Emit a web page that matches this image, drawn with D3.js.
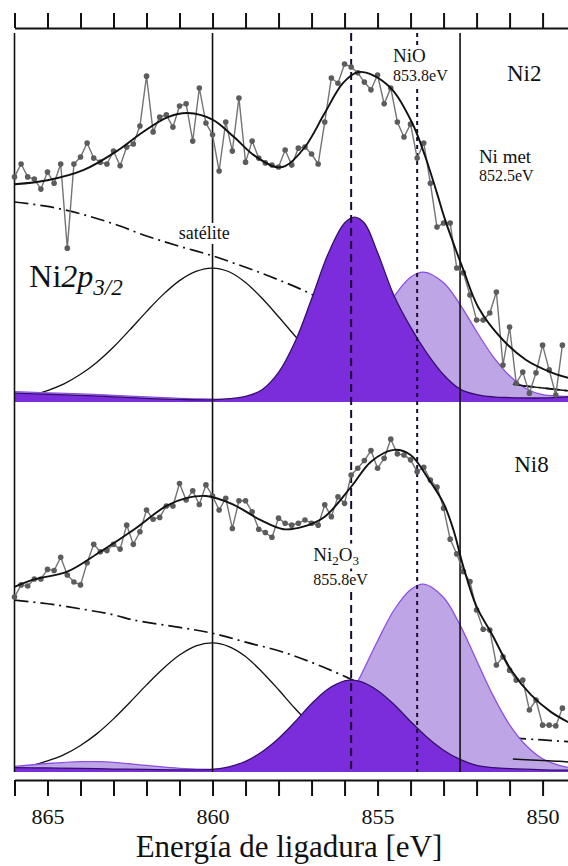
<!doctype html>
<html>

<head>
    <meta charset="utf-8">
    <style>
        body {
            margin: 0;
            background: #fff;
        }

        svg {
            display: block;
            font-family: "Liberation Serif", "Times New Roman", serif;
        }

        .axis path,
        .axis line {
            stroke: #111;
            stroke-width: 2;
        }
    </style>
    <script src="https://d3js.org/d3.v7.min.js"></script>
</head>

<body>
    <svg width="568" height="866"></svg>
    <script>

        var serif = "'Liberation Serif', 'Times New Roman', serif";

        // measured points: binding energy grid (eV)
        var pointStart = 866,
            pointStep = 0.2;

        // Ni2 measured intensity (a.u.)
        var ni2Counts = [
            61.0, 64.5, 61.0, 60.4, 57.7, 62.3, 59.3, 64.5, 41.7, 64.5,
            66.4, 70.2, 66.1, 65.0, 64.5, 68.0, 64.0, 69.1, 69.9, 74.8,
            88.3, 73.2, 77.2, 77.8, 74.5, 80.2, 80.8, 70.7, 85.1, 75.6,
            72.4, 62.6, 75.9, 68.0, 82.4, 65.0, 70.7, 66.1, 64.8, 64.2,
            63.7, 68.3, 64.2, 68.8, 69.1, 67.2, 64.5, 75.9, 87.8, 86.4,
            91.6, 90.8, 89.2, 86.7, 84.6, 88.6, 80.8, 85.1, 75.9, 71.8,
            75.3, 66.1, 70.2, 59.3, 47.4, 48.5, 48.5, 36.3, 35.0, 29.0,
            22.2, 22.2, 24.1, 29.8, 10.0, 20.3, 5.1, 8.1, 2.4, 7.9,
            15.4, 8.7, 1.9, 15.4
        ];

        // Ni8 measured intensity (a.u.)
        var ni8Counts = [
            47.4, 50.7, 50.4, 52.3, 52.3, 54.9, 54.6, 58.2, 53.4, 51.5,
            50.7, 56.7, 61.7, 59.7, 60.0, 61.7, 60.4, 66.9, 61.7, 65.1,
            71.0, 68.5, 69.0, 72.1, 72.1, 78.2, 73.7, 76.2, 72.5, 77.8,
            74.8, 71.0, 74.2, 66.0, 73.5, 73.5, 70.5, 65.8, 64.9, 63.6,
            68.8, 67.4, 66.9, 67.4, 68.3, 67.4, 66.9, 72.4, 69.2, 74.6,
            72.8, 80.5, 82.3, 84.4, 87.1, 82.3, 85.0, 90.2, 86.2, 85.9,
            84.6, 81.4, 82.6, 79.1, 77.2, 71.5, 63.1, 59.1, 54.3, 51.6,
            43.9, 38.7, 38.5, 29.0, 31.2, 27.6, 24.9, 24.9, 16.8, 19.5,
            12.7, 12.7, 12.5, 17.3
        ];

        // fitted curves, [energy eV, intensity]
        var ni2Envelope = [[866, 59.0], [865, 60.1], [863.9, 62.9], [862.85, 68.3], [862.15, 72.9], [861.35, 77.2],
        [860.75, 78.3], [860, 76.5], [859.35, 71.8], [858.75, 66.9], [858.1, 63.7], [857.8, 63.9], [857.2, 69.1],
        [856.6, 78.3], [856.05, 86.4], [855.6, 89.4], [855.15, 88.6], [854.55, 84.6], [853.95, 75.6], [853.55, 66.4],
        [853.2, 56.6], [852.95, 49.3], [852.4, 35.8], [851.95, 25.7], [851.2, 16.8], [850.5, 11.4], [849.7, 7.9], [849.2, 6.5]];

        var ni8Envelope = [[866, 50.2], [865.4, 52.2], [864.4, 54.3], [863.4, 59.7], [862.4, 65.6], [861.4, 72.1],
        [860.8, 74.2], [860.2, 74.8], [859.4, 72.6], [858.55, 68.3], [857.85, 65.8], [857.25, 66.5], [856.6, 69.2],
        [855.8, 77.3], [855.2, 84.1], [854.5, 87.3], [854, 85.9], [853.5, 80.0], [853, 72.8], [852.7, 65.6],
        [852.4, 55.6], [852, 44.8], [851.55, 37.6], [850.95, 27.6], [850.35, 20.9], [849.75, 16.3], [849.2, 13.4]];

        var ni2Background = [[866, 54.2], [865, 53.0], [864, 51.0], [863, 48.3], [862, 45.0], [861, 42.2], [860, 39.6],
        [859, 36.5], [858, 33.1], [857, 29.2], [856, 24.0], [855, 17.0], [854, 10.5], [853, 6.5], [852, 5.0],
        [851, 4.5], [850.5, 4.3], [850, 3.8], [849.5, 3.3], [849.2, 3.0]];

        var ni8Background = [[866, 46.6], [865, 45.6], [864.4, 44.8], [863, 42.6], [862.4, 41.2], [861, 39.2], [860, 37.6],
        [859, 35.2], [857.9, 32.6], [856.8, 29.0], [855.75, 24.9], [855, 21.5], [854, 17.0], [853, 13.2], [852, 10.6],
        [851, 9.3], [850, 8.7], [849.2, 8.2]];

        var ni2Satellite = [[866, 1.0], [865.5, 1.8], [865, 3.1], [864.5, 4.9], [864, 7.5], [863.5, 10.8], [863, 14.9],
        [862.5, 19.6], [862, 24.5], [861.5, 29.1], [861, 32.9], [860.5, 35.4], [860, 36.3], [859.5, 35.3], [859, 32.4],
        [858.5, 28.1], [858, 23.1], [857.5, 17.9], [857, 13.1], [856.5, 9.0], [856, 5.9], [855, 2.1], [854, 0.6], [853, 0.2]];

        var ni8Satellite = [[866, 1.0], [865.5, 1.7], [865, 3.0], [864.5, 4.7], [864, 7.2], [863.5, 10.4], [863, 14.4],
        [862.5, 18.9], [862, 23.6], [861.5, 28.0], [861, 31.7], [860.5, 34.2], [860, 35.0], [859.5, 34.0], [859, 31.3],
        [858.5, 27.1], [858, 22.3], [857.5, 17.2], [857, 12.6], [856.5, 8.7], [856, 5.7], [855, 2.1], [854, 0.6], [853, 0.2]];

        var ni2NiO = [[866, 2.8], [865, 2.5], [864, 2.2], [863, 1.8], [862, 1.4], [861, 1.0], [860, 0.8], [859, 0.6],
        [858, 0.6], [857.5, 0.9], [857, 2.0], [856.5, 4.1], [856, 8.1], [855.5, 14.0], [855, 21.3], [854.5, 28.6],
        [854, 33.8], [853.6, 35.2], [853, 32.3], [852.5, 26.4], [852, 19.1], [851.5, 12.3], [851, 7.1], [850.5, 3.6],
        [850, 2.0], [849.5, 1.6], [849.2, 1.5]];

        var ni8NiO = [[866, 1.5], [865, 2.3], [864, 2.8], [863.4, 2.8], [863, 2.6], [862, 1.8], [861, 1.0], [860, 0.7],
        [859, 0.9], [858, 1.5], [857.5, 3.1], [857, 6.1], [856.5, 10.9], [856, 17.7], [855.5, 26.3], [855, 35.5],
        [854.5, 43.9], [854, 49.4], [853.6, 50.9], [853, 47.3], [852.5, 39.8], [852, 30.2], [851.5, 20.7], [851, 12.8],
        [850.5, 7.2], [850, 3.6], [849.5, 1.8], [849.2, 1.2]];

        var ni2Ni2O3 = [[866, 2.4], [865, 2.1], [864, 1.8], [863, 1.4], [862, 1.0], [861, 0.7], [860, 0.6], [859.5, 0.9],
        [859, 1.5], [858.5, 3.3], [858, 8.0], [857.5, 16.3], [857, 27.9], [856.5, 40.1], [856, 48.5], [855.7, 50.1],
        [855.4, 48.5], [855, 40.5], [854.5, 28.8], [854, 20.3], [853.5, 13.2], [853, 7.4], [852.5, 3.5], [852, 2.0],
        [851.5, 1.4], [851, 1.2], [850, 1.1], [849.2, 1.4]];

        var ni8Ni2O3 = [[866, 1.2], [865, 1.1], [864, 1.0], [863, 0.8], [862, 0.7], [861, 0.6], [860, 0.7], [859.5, 1.4],
        [859, 2.9], [858.5, 5.5], [858, 9.1], [857.5, 13.6], [857, 18.5], [856.5, 22.5], [856, 24.7], [855.8, 24.9],
        [855.5, 24.5], [855, 22.1], [854.5, 18.3], [854, 13.7], [853.5, 9.4], [853, 5.9], [852.5, 3.4], [852, 1.8],
        [851.5, 1.2], [851, 0.9], [850, 0.6], [849.2, 0.5]];

        var ni2Met = [[850.9, 4.8], [850.5, 4.3], [850, 3.8], [849.5, 3.3], [849.2, 3.0]];
        var ni8Met = [[850.9, 3.5], [850.5, 3.3], [850, 3.1], [849.5, 2.9], [849.2, 2.7]];

        // reference energies (eV)
        var refSolid = [866, 860, 852.5],
            refDashed = [855.8],
            refDotted = [853.8];

        var svg = d3.select("svg");

        var x = d3.scaleLinear().domain([866, 849.23]).range([14.5, 568]);

        var panels = [
            {
                y: d3.scaleLinear().domain([0, 100]).range([402, 33]),
                counts: ni2Counts, env: ni2Envelope, bg: ni2Background, sat: ni2Satellite,
                light: ni2NiO, dark: ni2Ni2O3, met: ni2Met
            },
            {
                y: d3.scaleLinear().domain([0, 100]).range([772, 403]),
                counts: ni8Counts, env: ni8Envelope, bg: ni8Background, sat: ni8Satellite,
                light: ni8NiO, dark: ni8Ni2O3, met: ni8Met
            }
        ];

        var smooth = d3.curveCatmullRom.alpha(0.5);

        // components, background
        panels.forEach(function (p) {
            var line = d3.line().x(d => x(d[0])).y(d => p.y(d[1])).curve(smooth);
            var area = d3.area().x(d => x(d[0])).y0(p.y(0)).y1(d => p.y(d[1])).curve(smooth);
            var g = svg.append("g");

            g.append("path").attr("d", line(p.bg))
                .attr("fill", "none").attr("stroke", "#111").attr("stroke-width", 1.7)
                .attr("stroke-dasharray", "14,5,2,5");

            g.append("path").attr("d", line(p.sat))
                .attr("fill", "none").attr("stroke", "#111").attr("stroke-width", 1.3);

            g.append("path").attr("d", area(p.light)).attr("fill", "#bea6e6");
            g.append("path").attr("d", line(p.light))
                .attr("fill", "none").attr("stroke", "#8c4fe4").attr("stroke-width", 1.3);

            g.append("path").attr("d", area(p.dark)).attr("fill", "#7b2ddc");
            g.append("path").attr("d", line(p.dark))
                .attr("fill", "none").attr("stroke", "#34106a").attr("stroke-width", 1.3);

            g.append("path").attr("d", line(p.met))
                .attr("fill", "none").attr("stroke", "#111").attr("stroke-width", 1.5);
        });

        // reference lines through both panels
        var yTopEdge = panels[0].y(100), yBottomEdge = panels[1].y(0);
        var refs = svg.append("g");
        refs.selectAll(".solid").data(refSolid).enter().append("line")
            .attr("x1", d => x(d)).attr("x2", d => x(d))
            .attr("y1", yTopEdge).attr("y2", yBottomEdge)
            .attr("stroke", "#111").attr("stroke-width", 1.6);
        refs.selectAll(".dashed").data(refDashed).enter().append("line")
            .attr("x1", d => x(d)).attr("x2", d => x(d))
            .attr("y1", yTopEdge).attr("y2", yBottomEdge)
            .attr("stroke", "#1a0a2e").attr("stroke-width", 2)
            .attr("stroke-dasharray", "8,5");
        refs.selectAll(".dotted").data(refDotted).enter().append("line")
            .attr("x1", d => x(d)).attr("x2", d => x(d))
            .attr("y1", yTopEdge).attr("y2", yBottomEdge)
            .attr("stroke", "#1a0a2e").attr("stroke-width", 2)
            .attr("stroke-dasharray", "4,4");

        // labels
        function label(parts, xPos, yPos, size, anchor, bg) {
            var grp = svg.append("g");
            var rect = grp.append("rect").attr("fill", "#fff");
            var t = grp.append("text").attr("x", xPos).attr("y", yPos)
                .attr("font-family", serif)
                .attr("font-size", size).attr("fill", "#111")
                .attr("text-anchor", anchor || "start");
            parts.forEach(function (pt) {
                var s = t.append("tspan").text(pt.text);
                if (pt.italic) s.attr("font-style", "italic");
                if (pt.size) s.attr("font-size", pt.size);
                if (pt.dy) s.attr("dy", pt.dy);
            });
            if (bg) {
                var b = t.node().getBBox();
                rect.attr("x", b.x - 2).attr("y", b.y).attr("width", b.width + 4).attr("height", b.height + 1);
            } else {
                rect.remove();
            }
        }

        var yT = panels[0].y, yB = panels[1].y;

        label([{ text: "NiO" }], x(854.53), yT(92.1), 19, "start", true);
        label([{ text: "853.8eV" }], x(854.53), yT(87.0), 16, "start", true);
        label([{ text: "Ni2" }], x(851.08), yT(87.0), 23);
        label([{ text: "Ni met" }], x(851.93), yT(64.8), 19);
        label([{ text: "852.5eV" }], x(851.93), yT(59.9), 16);
        label([{ text: "satélite" }], x(860.25), yT(44.2), 18, "middle", true);
        label([{ text: "Ni" }, { text: "2p", italic: true }, { text: "3/2", italic: true, size: 23, dy: 8 }],
            x(865.55), yT(31.2), 32);

        label([{ text: "Ni8" }], x(850.86), yB(81.3), 23);
        label([{ text: "Ni" }, { text: "2", size: 13, dy: 4 }, { text: "O", dy: -4 }, { text: "3", size: 13, dy: 4 }],
            x(856.95), yB(57.3), 19, "start", true);
        label([{ text: "855.8eV" }], x(856.95), yB(50.6), 16, "start", true);

        // envelope and measured points
        panels.forEach(function (p) {
            var line = d3.line().x(d => x(d[0])).y(d => p.y(d[1])).curve(smooth);
            var pts = p.counts.map((v, i) => [pointStart - i * pointStep, v]);
            var g = svg.append("g");

            g.append("path").attr("d", d3.line().x(d => x(d[0])).y(d => p.y(d[1]))(pts))
                .attr("fill", "none").attr("stroke", "#747474").attr("stroke-width", 1.4);

            g.selectAll("circle").data(pts).enter().append("circle")
                .attr("cx", d => x(d[0])).attr("cy", d => p.y(d[1])).attr("r", 2.8)
                .attr("fill", "#5c5c5c");

            g.append("path").attr("d", line(p.env))
                .attr("fill", "none").attr("stroke", "#111").attr("stroke-width", 1.9);
        });

        // axes
        var tickVals = d3.range(850, 867);

        svg.append("g").attr("class", "axis")
            .attr("transform", "translate(0,28)")
            .call(d3.axisTop(x).tickValues(tickVals).tickSize(15).tickSizeOuter(0).tickFormat(""));

        var xAxis = svg.append("g").attr("class", "axis")
            .attr("transform", "translate(0,780)")
            .call(d3.axisBottom(x).tickValues(tickVals).tickSize(16).tickSizeOuter(0)
                .tickFormat(d => d % 5 === 0 ? d : ""));
        xAxis.attr("font-family", serif).attr("font-size", 22);
        xAxis.selectAll("text").attr("y", 44).attr("dy", 0).attr("fill", "#111");

        svg.append("text")
            .attr("x", 289)
            .attr("y", 857)
            .attr("text-anchor", "middle")
            .attr("font-family", serif)
            .attr("font-size", 31)
            .attr("fill", "#111")
            .text("Energía de ligadura [eV]");

    </script>
</body>

</html>
